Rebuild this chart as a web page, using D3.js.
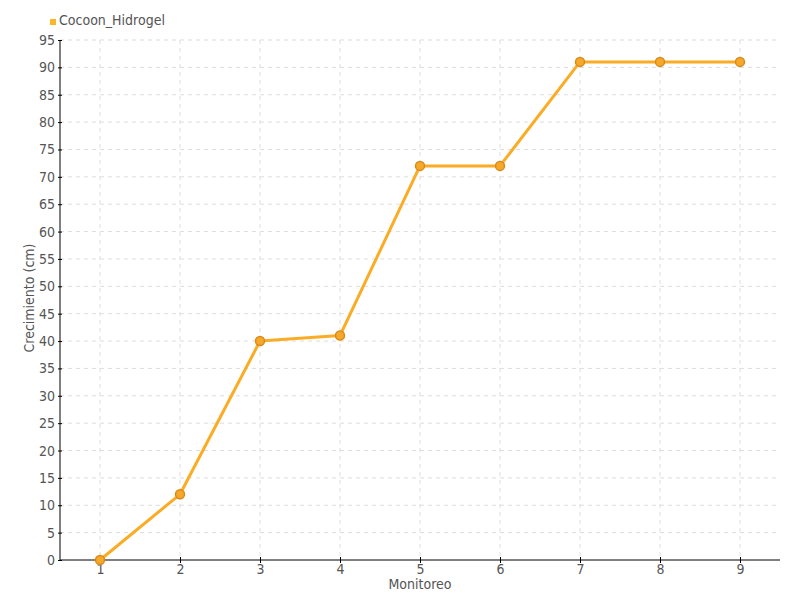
<!DOCTYPE html>
<html>
<head>
<meta charset="utf-8">
<script src="https://cdn.jsdelivr.net/npm/d3@7"></script>
<style>
  body { margin: 0; background: #fff; }
  svg text { font-family: "Liberation Sans Narrow", "DejaVu Sans Condensed", sans-serif; fill: #555; }
  .grid line { stroke: #ddd; stroke-dasharray: 4,4; }
  .axis path, .axis line { stroke: #000; }
</style>
</head>
<body>
<svg id="chart" width="800" height="600"></svg>
<script>
// datos
const monitoreo = [1, 2, 3, 4, 5, 6, 7, 8, 9];
const crecimiento = [0, 12, 40, 41, 72, 72, 91, 91, 91];
const yTicks = d3.range(0, 100, 5);
const serieNombre = 'Cocoon_Hidrogel';

const margin = { top: 40, right: 20, bottom: 40, left: 60 };
const width = 800, height = 600;

const svg = d3.select('#chart');

const x = d3.scaleLinear()
    .domain([0.5, 9.5])
    .range([margin.left, width - margin.right]);

const y = d3.scaleLinear()
    .domain([0, 95])
    .range([height - margin.bottom, margin.top]);

// rejilla
svg.append('g')
    .attr('class', 'grid')
    .selectAll('line.h')
    .data(yTicks.filter(d => d > 0))
    .join('line')
    .attr('x1', margin.left).attr('x2', width - margin.right)
    .attr('y1', d => y(d)).attr('y2', d => y(d));

svg.append('g')
    .attr('class', 'grid')
    .selectAll('line.v')
    .data(monitoreo)
    .join('line')
    .attr('x1', d => x(d)).attr('x2', d => x(d))
    .attr('y1', margin.top).attr('y2', height - margin.bottom);

// ejes
const yAxis = svg.append('g')
    .attr('class', 'axis')
    .attr('transform', `translate(${margin.left},0)`)
    .call(d3.axisLeft(y).tickValues(yTicks).tickSize(0).tickPadding(5));
yAxis.select('.domain').remove();
yAxis.append('line')
    .attr('x1', 0).attr('x2', 0)
    .attr('y1', y(95)).attr('y2', y(0))
    .attr('stroke', '#000');
yAxis.selectAll('.tick').append('line')
    .attr('x1', -2).attr('x2', 2).attr('stroke', '#000');
yAxis.selectAll('.tick text').attr('font-size', 14).style('fill', '#555');

const xAxis = svg.append('g')
    .attr('class', 'axis')
    .attr('transform', `translate(0,${height - margin.bottom})`)
    .call(d3.axisBottom(x).tickValues(monitoreo).tickSize(0).tickPadding(4).tickFormat(d3.format('d')));
xAxis.select('.domain').remove();
xAxis.append('line')
    .attr('x1', margin.left).attr('x2', width - margin.right)
    .attr('stroke', '#000');
xAxis.selectAll('.tick').append('line')
    .attr('y1', -3).attr('y2', 3).attr('stroke', '#000');
xAxis.selectAll('.tick text').attr('font-size', 14).style('fill', '#555');

// titulos
svg.append('text')
    .attr('x', (margin.left + width - margin.right) / 2)
    .attr('y', 589)
    .attr('text-anchor', 'middle')
    .attr('font-size', 14)
    .text('Monitoreo');

svg.append('text')
    .attr('transform', `translate(34,${(margin.top + height - margin.bottom) / 2 - 2}) rotate(-90)`)
    .attr('text-anchor', 'middle')
    .attr('font-size', 14)
    .text('Crecimiento (cm)');

// linea
const puntos = monitoreo.map((m, i) => ({ m, v: crecimiento[i] }));

svg.append('path')
    .datum(puntos)
    .attr('fill', 'none')
    .attr('stroke', '#fbac25')
    .attr('stroke-width', 3)
    .attr('stroke-linejoin', 'round')
    .attr('d', d3.line().x(d => x(d.m)).y(d => y(d.v)));

svg.append('g')
    .selectAll('circle')
    .data(puntos)
    .join('circle')
    .attr('cx', d => x(d.m))
    .attr('cy', d => y(d.v))
    .attr('r', 4.5)
    .attr('fill', '#f7a828')
    .attr('stroke', '#d88b1c')
    .attr('stroke-width', 1.5);

// leyenda
svg.append('rect')
    .attr('x', 50).attr('y', 19)
    .attr('width', 6).attr('height', 6)
    .attr('fill', '#fbb825');
svg.append('text')
    .attr('x', 59).attr('y', 25)
    .attr('font-size', 14)
    .text(serieNombre);
</script>
</body>
</html>
